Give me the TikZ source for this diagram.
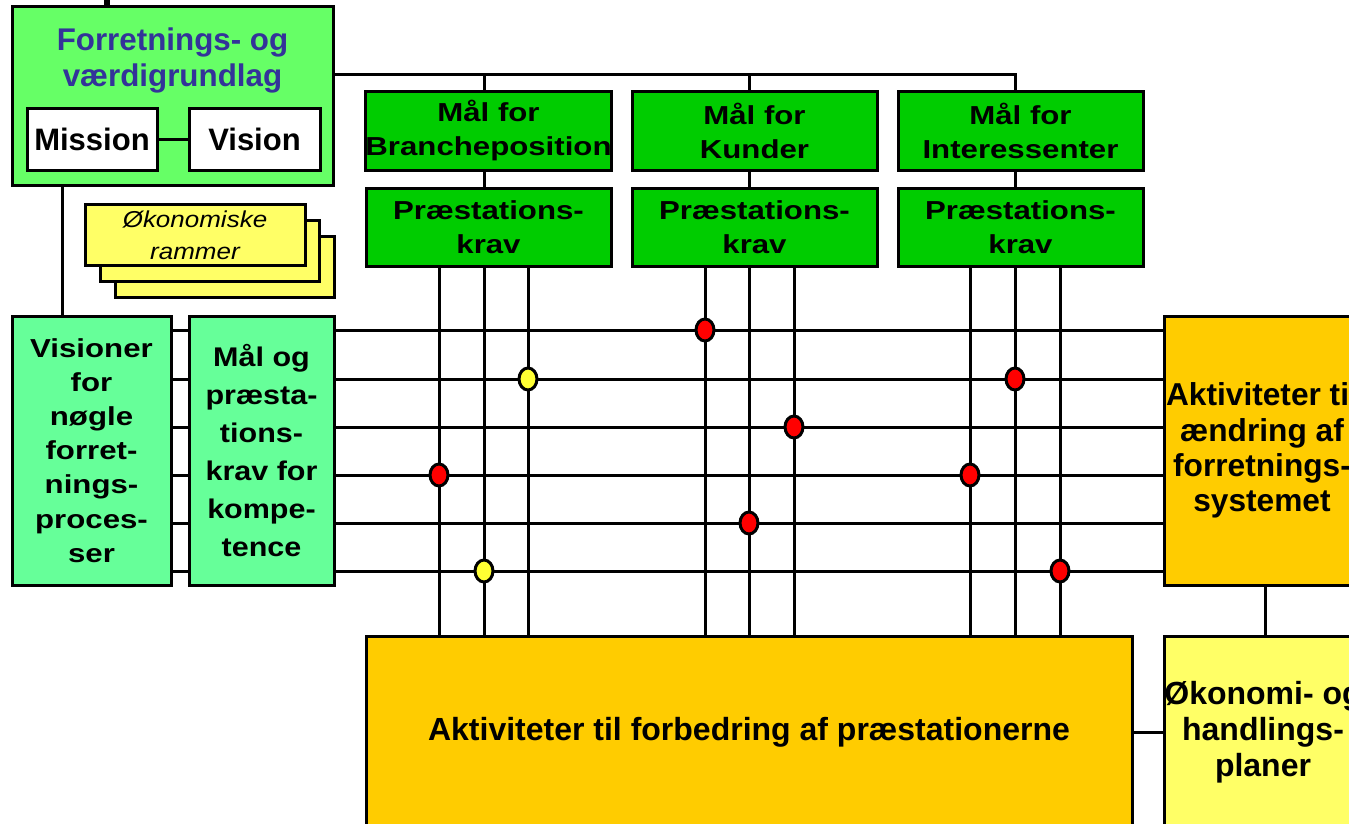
\documentclass[tikz,border=0pt]{standalone}
\usepackage{fontspec}
\setmainfont{Liberation Sans}
\newfontfamily\stretchA[FakeStretch=1.2]{Liberation Sans}
\newfontfamily\stretchB[FakeStretch=1.13]{Liberation Sans}
\usetikzlibrary{shapes.geometric}

\definecolor{fvgreen}{HTML}{66FF66}
\definecolor{mint}{HTML}{66FF99}
\definecolor{goalgreen}{HTML}{00CC00}
\definecolor{amber}{HTML}{FFCC00}
\definecolor{paleyellow}{HTML}{FFFF66}
\definecolor{titleblue}{HTML}{333399}
\definecolor{dotyellow}{HTML}{FFFF33}

\tikzset{
  px/.style 2 args={minimum width=#1*0.75pt, minimum height=#2*0.75pt},
  box/.style={draw=black, line width=2.25pt, inner sep=0pt, outer sep=0pt,
              align=center, text=black},
  bigfont/.style={font=\fontsize{23.25}{26.5}\selectfont\bfseries},
  goalfont/.style={font=\stretchA\fontsize{19.5}{25.5}\selectfont\bfseries},
  visfont/.style={font=\stretchA\fontsize{19.5}{25.6}\selectfont\bfseries},
  malfont/.style={font=\stretchB\fontsize{20.25}{28.5}\selectfont\bfseries},
  econfont/.style={font=\stretchB\fontsize{17.25}{24}\selectfont\itshape},
  conn/.style={draw=black, line width=2.25pt},
  dot/.style={ellipse, draw=black, line width=2.25pt, inner sep=0pt,
              minimum width=18*0.75pt, minimum height=22*0.75pt},
}

\begin{document}
\begin{tikzpicture}[x=0.75pt, y=-0.75pt]
\useasboundingbox (0,0) rectangle (1349,824);
\clip (0,0) rectangle (1349,824);

% business foundation with mission and vision
\node[box, fill=fvgreen, px={321}{178}] (fv) at (172.5,96) {};
\node[text=titleblue, align=center, inner sep=0pt,
      font=\fontsize{23.5}{27}\selectfont\bfseries] (fvt) at (172.5,60)
      {Forretnings- og\\værdigrundlag};
\node[box, fill=white, px={130}{62}, bigfont] (mis) at (92,139) {Mission};
\node[box, fill=white, px={131}{62}, bigfont] (vis0) at (254.5,139) {Vision};

% stacked sheets: economic frame
\node[box, fill=paleyellow, px={219}{61}] (ec3) at (224.5,266.5) {};
\node[box, fill=paleyellow, px={219}{61}] (ec2) at (209.5,250.5) {};
\node[box, fill=paleyellow, px={220}{61}, econfont] (ec1) at (195,235)
      {Økonomiske\\rammer};

% goal boxes and performance requirements
\node[box, fill=goalgreen, px={245}{78}, goalfont] (m1) at (488.5,131) {Mål for\\Brancheposition};
\node[box, fill=goalgreen, px={245}{78}, goalfont] (m2) at (754.5,131) {Mål for\\Kunder};
\node[box, fill=goalgreen, px={245}{78}, goalfont] (m3) at (1020.5,131) {Mål for\\Interessenter};
\node[box, fill=goalgreen, px={245}{78}, goalfont] (p1) at (488.5,227) {Præstations-\\krav};
\node[box, fill=goalgreen, px={245}{78}, goalfont] (p2) at (754.5,227) {Præstations-\\krav};
\node[box, fill=goalgreen, px={245}{78}, goalfont] (p3) at (1020.5,227) {Præstations-\\krav};

% left column boxes
\node[box, fill=mint, px={159}{269}, visfont] (vis) at (91.5,450.5)
      {Visioner\\for\\nøgle\\forret-\\nings-\\proces-\\ser};
\node[box, fill=mint, px={145}{269}, malfont] (mal) at (261.5,450.5)
      {Mål og\\præsta-\\tions-\\krav for\\kompe-\\tence};

% activity boxes
\node[box, fill=amber, px={196}{269}, font=\fontsize{23.75}{26.5}\selectfont\bfseries] (akt) at (1262,450.5)
      {Aktiviteter til\\ændring af\\forretnings-\\systemet};
\node[box, fill=amber, px={766}{192}, font=\fontsize{24}{26}\selectfont\bfseries] (big) at (749,732)
      {Aktiviteter til forbedring af præstationerne};
\node[box, fill=paleyellow, px={196}{192}, font=\fontsize{24}{27}\selectfont\bfseries] (okh) at (1263,732)
      {Økonomi- og\\handlings-\\planer};

% connectors
\coordinate (topend) at (107,-5);
\draw[conn, line width=4.5pt] (topend) -- (fv.north -| topend);
\draw[conn] (mis.east) -- (vis0.west);
\draw[conn] (fv.south -| 62,0) -- (vis.north -| 62,0);
\draw[conn] (fv.north east |- 0,75) -| (m3.north -| 1015,0);
\coordinate (b1) at (484,75);
\coordinate (b2) at (749,75);
\draw[conn] (b1) -- (m1.north -| b1);
\draw[conn] (b2) -- (m2.north -| b2);
\foreach \x/\m/\p in {484/m1/p1, 749/m2/p2, 1015/m3/p3}
  \draw[conn] (\m.south -| \x,0) -- (\p.north -| \x,0);
\foreach \x/\p in {439/p1,484/p1,528/p1,705/p2,749/p2,794/p2,970/p3,1015/p3,1060/p3}
  \draw[conn] (\p.south -| \x,0) -- (big.north -| \x,0);
\foreach \y in {330,379,427,475,523,571} {
  \draw[conn] (vis.east |- 0,\y) -- (mal.west |- 0,\y);
  \draw[conn] (mal.east |- 0,\y) -- (akt.west |- 0,\y);
}
\draw[conn] (akt.south -| 1265,0) -- (okh.north -| 1265,0);
\draw[conn] (big.east |- 0,732) -- (okh.west |- 0,732);

% relation markers at the crossings
\foreach \n/\x/\y/\c in {d1/705/330/red, d2/528/379/dotyellow, d3/1015/379/red,
    d4/794/427/red, d5/439/475/red, d6/970/475/red, d7/749/523/red,
    d8/484/571/dotyellow, d9/1060/571/red}
  \node[dot, fill=\c] (\n) at (\x,\y) {};
\end{tikzpicture}
\end{document}
